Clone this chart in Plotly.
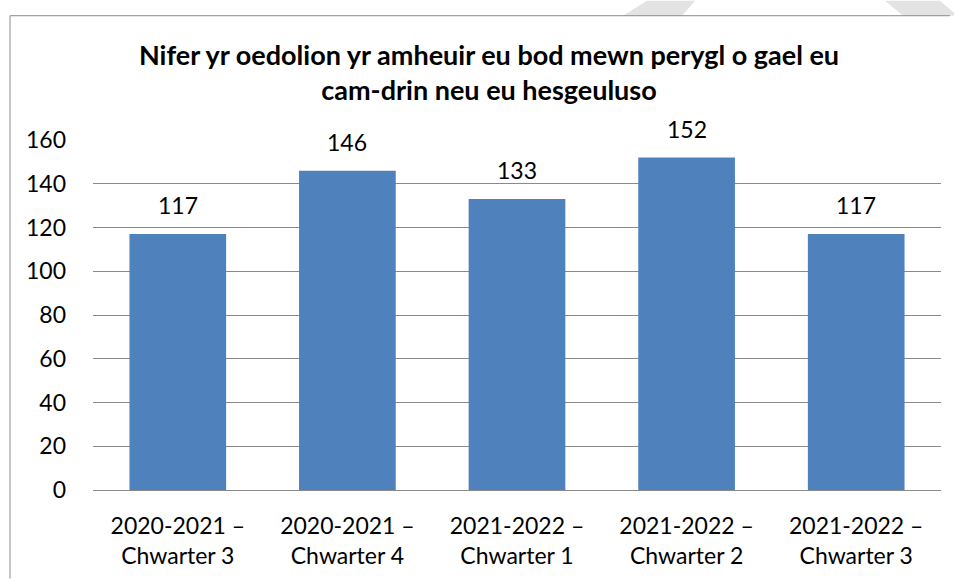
import plotly.graph_objects as go

categories = [
    "2020-2021 –<br>Chwarter 3",
    "2020-2021 –<br>Chwarter 4",
    "2021-2022 –<br>Chwarter 1",
    "2021-2022 –<br>Chwarter 2",
    "2021-2022 –<br>Chwarter 3",
]
values = [117, 146, 133, 152, 117]
y_ticks = [0, 20, 40, 60, 80, 100, 120, 140, 160]
title_text = "Nifer yr oedolion yr amheuir eu bod mewn perygl o gael eu<br>cam-drin neu eu hesgeuluso"

W, H = 954, 581
ML, MR, MT, MB = 93, 13, 140, 89
PW, PH = W - ML - MR, H - MT - MB


def px(x, y):
    return (x - ML) / PW, (H - MB - y) / PH


FONT = "Lato"

fig = go.Figure()
fig.add_trace(go.Bar(
    x=categories, y=values,
    marker=dict(color="#4F81BD", line=dict(width=0)),
    width=0.57,
    hoverinfo="x+y",
))

for c, v in zip(categories, values):
    fig.add_annotation(x=c, y=v, text=str(v), showarrow=False,
                       yanchor="bottom", yshift=13,
                       font=dict(family=FONT, size=23, color="#000000"))

shapes = []
x0, y0 = px(10, 15)
x1, _ = px(950, 15)
_, yb = px(10, 581)


def path(points):
    s = ""
    for i, (a, b) in enumerate(points):
        xx, yy = px(a, b)
        s += ("M" if i == 0 else "L") + f"{xx},{yy} "
    return s + "Z"


shapes.append(dict(type="path", xref="paper", yref="paper",
                   path=path([(623, 15), (647, 0), (695, 0), (682, 15)]),
                   fillcolor="#e3e3e3", line=dict(width=0), layer="below"))
shapes.append(dict(type="path", xref="paper", yref="paper",
                   path=path([(885, 0), (940, 0), (954, 12), (954, 15), (903, 15)]),
                   fillcolor="#e3e3e3", line=dict(width=0), layer="below"))
shapes.append(dict(type="line", xref="paper", yref="paper",
                   x0=x0, y0=y0, x1=x1, y1=y0,
                   line=dict(color="#8c8c8c", width=1)))
shapes.append(dict(type="line", xref="paper", yref="paper",
                   x0=x0, y0=y0, x1=x0, y1=yb,
                   line=dict(color="#8c8c8c", width=1)))

fig.update_layout(
    width=W, height=H,
    margin=dict(l=ML, r=MR, t=MT, b=MB),
    paper_bgcolor="white", plot_bgcolor="white",
    showlegend=False,
    title=dict(text=title_text, x=489 / W, xanchor="center",
               y=1 - 65 / H, yanchor="middle",
               font=dict(family=FONT, size=27, color="#000000", weight="bold")),
    font=dict(family=FONT, size=23, color="#000000"),
    shapes=shapes,
    bargap=0.43,
)
fig.update_yaxes(range=[0, 160], tickvals=y_ticks, showgrid=True,
                 gridcolor="#8a8a8a", gridwidth=1, zeroline=True,
                 zerolinecolor="#8a8a8a", zerolinewidth=1,
                 ticks="", ticklabelstandoff=26, showline=False,
                 tickfont=dict(family=FONT, size=23, color="#000000"))
fig.update_xaxes(showgrid=False, showline=False, ticks="",
                 ticklabelstandoff=20,
                 tickfont=dict(family=FONT, size=23, color="#000000"))

fig.write_html("out.html", config={"displayModeBar": False},
               post_script="document.body.style.margin='0';")
